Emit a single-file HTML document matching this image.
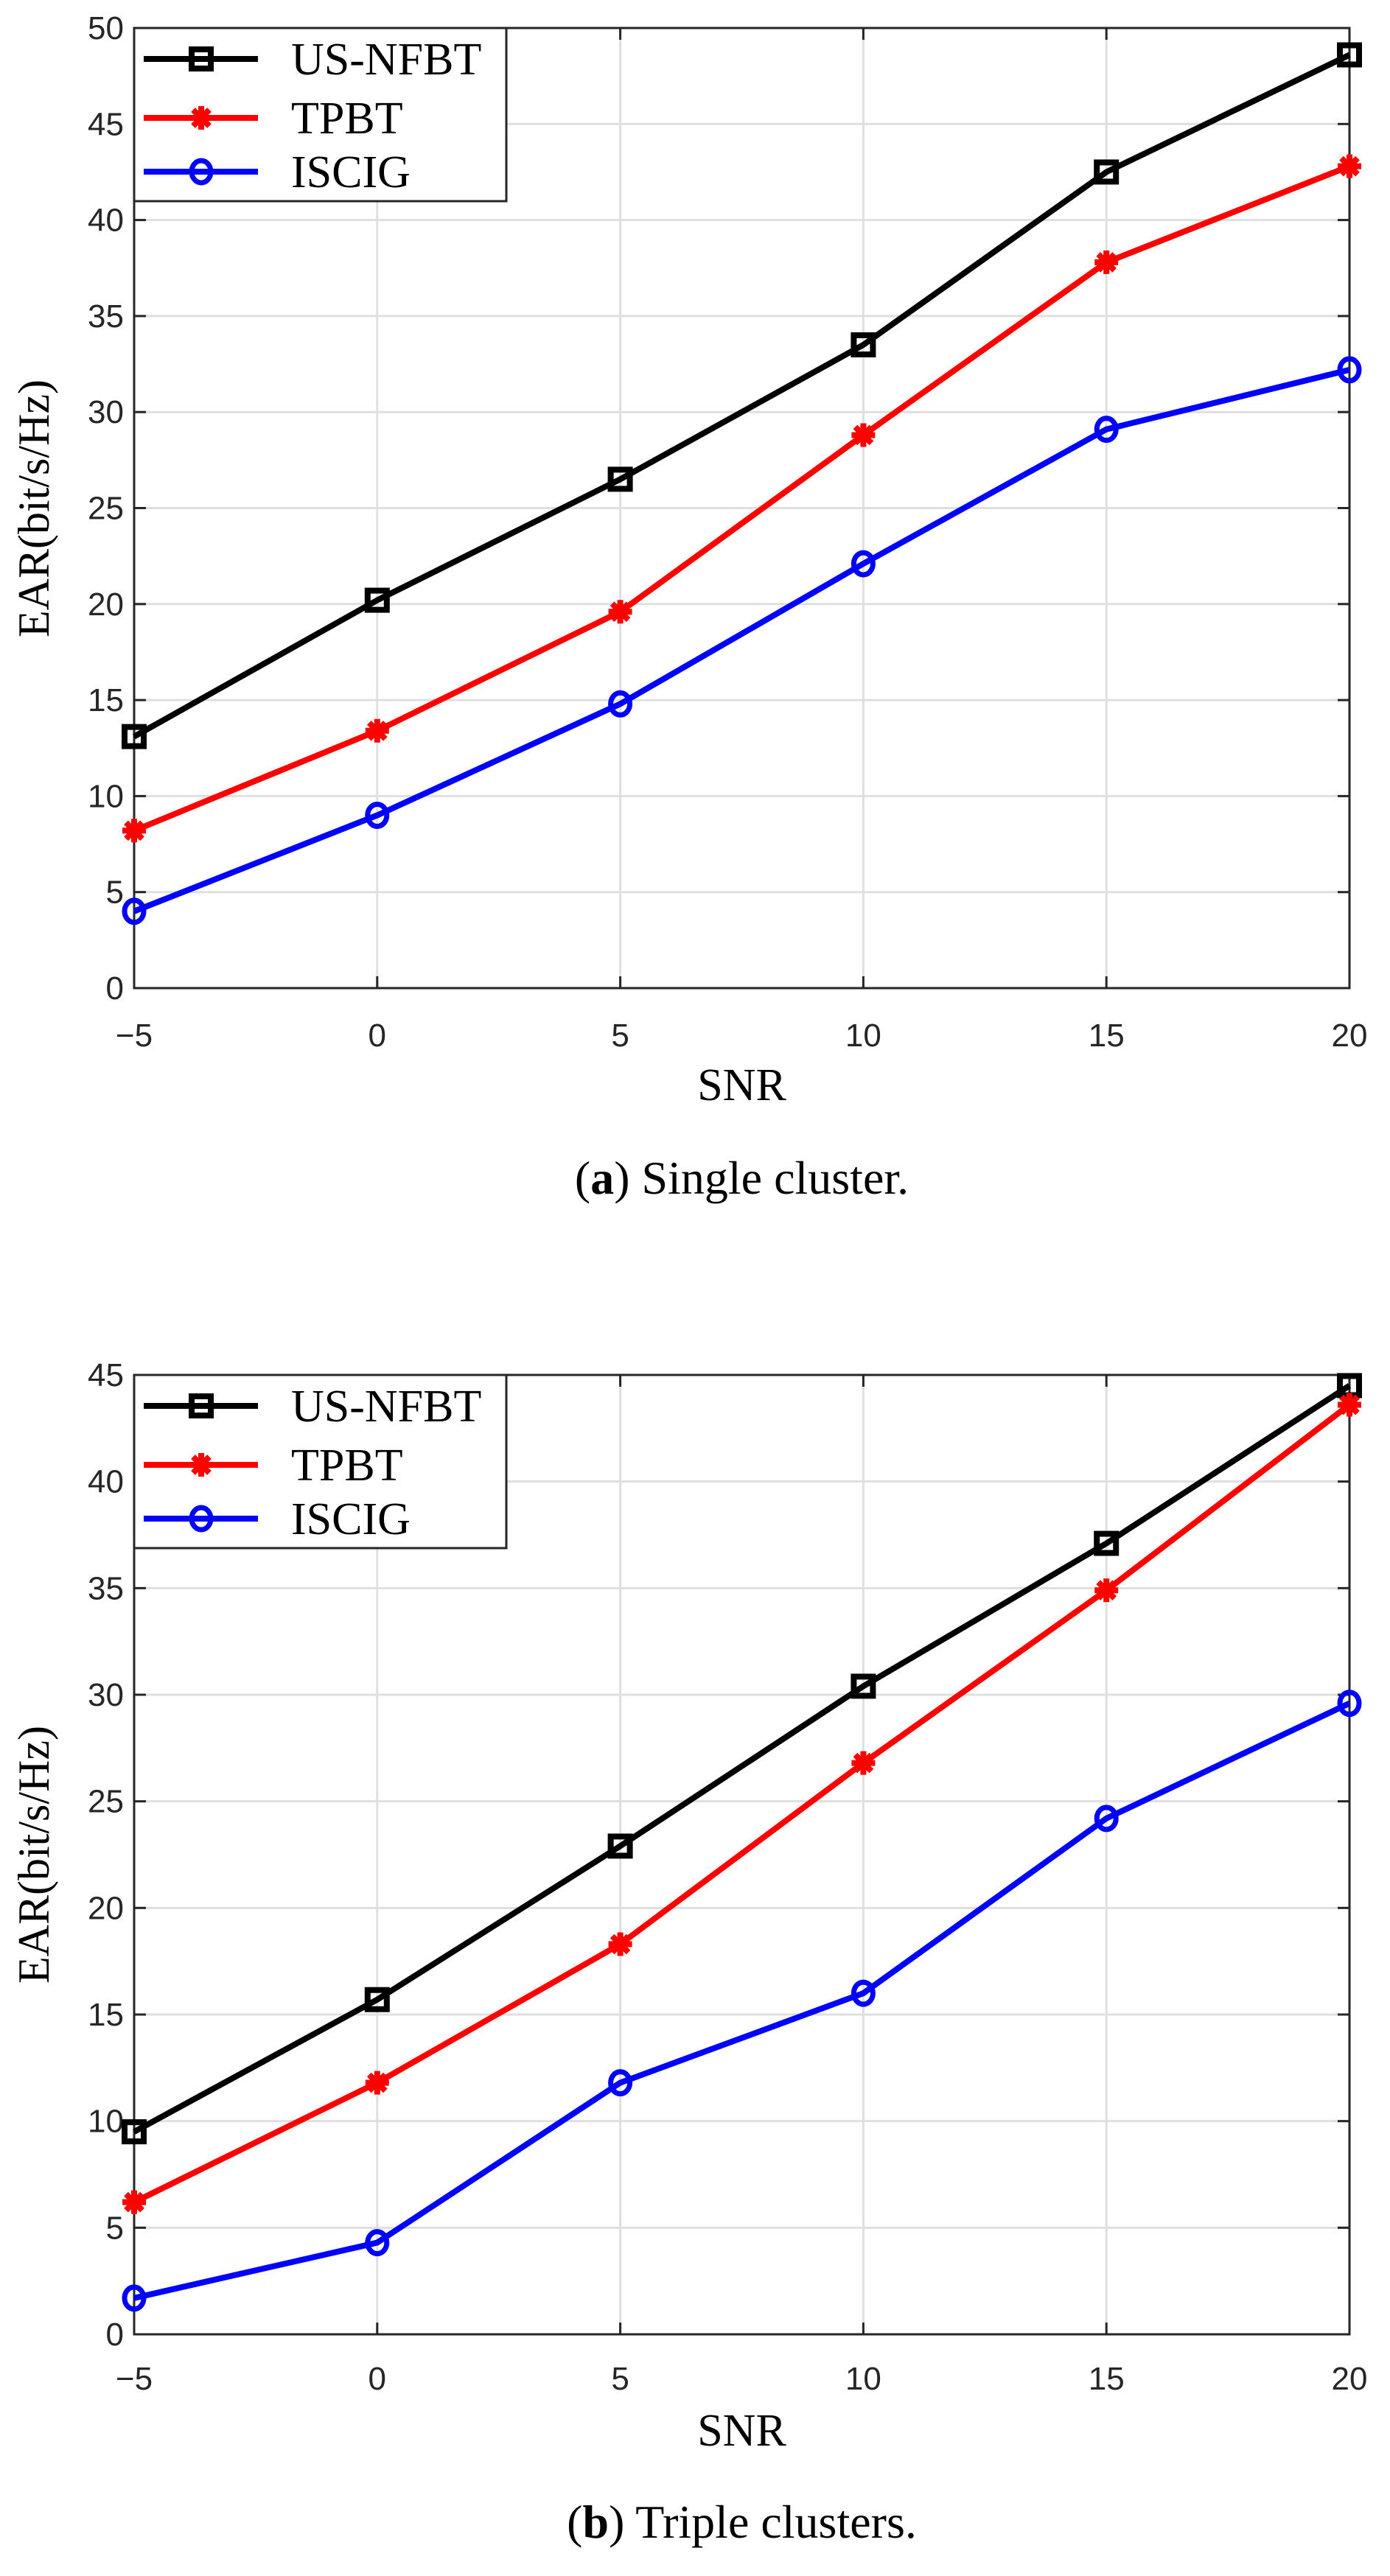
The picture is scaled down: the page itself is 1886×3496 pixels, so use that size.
<!DOCTYPE html>
<html><head><meta charset="utf-8"><style>
html,body{margin:0;padding:0;background:#fff;}
svg{display:block;}
.tick{font-family:"Liberation Sans",sans-serif;font-size:44px;fill:#262626;}
.serif{font-family:"Liberation Serif",serif;fill:#000;}
</style></head><body>
<svg id="svg" width="1886" height="3496" viewBox="0 0 1886 3496" xmlns="http://www.w3.org/2000/svg"></svg>
<script>
const xCategories = [-5, 0, 5, 10, 15, 20];
const xTickLabels = ['\u22125', '0', '5', '10', '15', '20'];
const seriesNames = ['US-NFBT', 'TPBT', 'ISCIG'];
const a_usnfbt = [13.1, 20.2, 26.5, 33.5, 42.5, 48.6];
const a_tpbt = [8.2, 13.4, 19.6, 28.8, 37.8, 42.8];
const a_iscig = [4.0, 9.0, 14.8, 22.1, 29.1, 32.2];
const b_usnfbt = [9.5, 15.7, 22.9, 30.4, 37.1, 44.5];
const b_tpbt = [6.2, 11.8, 18.3, 26.8, 34.9, 43.6];
const b_iscig = [1.7, 4.3, 11.8, 16.0, 24.2, 29.6];
const a_yTicks = [0,5,10,15,20,25,30,35,40,45,50];
const b_yTicks = [0,5,10,15,20,25,30,35,40,45];

const NS='http://www.w3.org/2000/svg';
const svg=document.getElementById('svg');
function mk(tag,attrs,parent){const e=document.createElementNS(NS,tag);for(const k in attrs)e.setAttribute(k,attrs[k]);(parent||svg).appendChild(e);return e;}
const colors=['#000000','#ff0000','#0000ff'];

function marker(g,i,x,y){
  if(i===0){const r=mk('rect',{x:x-13,y:y-13,width:26,height:26,fill:'none',stroke:colors[0],'stroke-width':8},g);}
  else if(i===1){const p=mk('path',{d:`M${x-16} ${y}H${x+16}M${x} ${y-16}V${y+16}M${x-11} ${y-11}L${x+11} ${y+11}M${x-11} ${y+11}L${x+11} ${y-11}`,stroke:colors[1],'stroke-width':8,fill:'none'},g);}
  else {const c=mk('ellipse',{cx:x,cy:y,rx:13,ry:15,fill:'none',stroke:colors[2],'stroke-width':7},g);}
}

function chart(id,top,bottom,ymax,yTicks,series,ylabY,tickY,snrY,capY,capLetter,capText){
  const L=182,R=1831;
  const g=mk('g',{});
  
  
  const xs=v=>L+(v-xCategories[0])/(xCategories[xCategories.length-1]-xCategories[0])*(R-L);
  const ys=v=>bottom-v/ymax*(bottom-top);
  yTicks.forEach(t=>{const l=mk('line',{x1:L,x2:R,y1:ys(t),y2:ys(t),stroke:'#dfdfdf','stroke-width':3},g);});
  xCategories.forEach(t=>{const l=mk('line',{x1:xs(t),x2:xs(t),y1:top,y2:bottom,stroke:'#dfdfdf','stroke-width':3},g);});
  yTicks.forEach(t=>{mk('line',{x1:L,x2:L+16,y1:ys(t),y2:ys(t),stroke:'#262626','stroke-width':3},g);mk('line',{x1:R-16,x2:R,y1:ys(t),y2:ys(t),stroke:'#262626','stroke-width':3},g);
    const tx=mk('text',{x:L-14,y:ys(t)+15,'text-anchor':'end',class:'tick'},g);tx.textContent=t;});
  xCategories.forEach((t,i)=>{mk('line',{x1:xs(t),x2:xs(t),y1:bottom-16,y2:bottom,stroke:'#262626','stroke-width':3},g);mk('line',{x1:xs(t),x2:xs(t),y1:top,y2:top+16,stroke:'#262626','stroke-width':3},g);
    const tx=mk('text',{x:xs(t),y:tickY+15,'text-anchor':'middle',class:'tick'},g);tx.textContent=xTickLabels[i];});
  const box=mk('rect',{x:L,y:top,width:R-L,height:bottom-top,fill:'none',stroke:'#262626','stroke-width':3},g);
  
  series.forEach((vals,i)=>{
    const sg=mk('g',{},g);
    
    
    const pl=mk('polyline',{points:vals.map((v,j)=>xs(xCategories[j])+','+ys(v)).join(' '),fill:'none',stroke:colors[i],'stroke-width':8,'stroke-linejoin':'round'},sg);
    
    vals.forEach((v,j)=>marker(sg,i,xs(xCategories[j]),ys(v)));
  });
  const lg=mk('g',{},g);
  
  mk('rect',{x:L,y:top,width:505,height:235,fill:'#fff',stroke:'#262626','stroke-width':3},lg);
  [42,122,195].forEach((dy,i)=>{
    const eg=mk('g',{},lg);
    
    mk('line',{x1:195,x2:350,y1:top+dy,y2:top+dy,stroke:colors[i],'stroke-width':8},eg);
    marker(eg,i,273,top+dy);
    const t=mk('text',{x:395,y:top+dy+21,class:'serif','font-size':62},eg);t.textContent=seriesNames[i];
  });
  const yl=mk('text',{x:0,y:0,class:'serif','font-size':60,'text-anchor':'middle',transform:`translate(66,${ylabY}) rotate(-90)`},g);
  yl.textContent='EAR(bit/s/Hz)';
  const xl=mk('text',{x:(L+R)/2,y:snrY+21,class:'serif','font-size':62,'text-anchor':'middle'},g);
  xl.textContent='SNR';
  const cp=mk('text',{x:(L+R)/2,y:capY+22,class:'serif','font-size':64,'text-anchor':'middle'},g);
  
  cp.innerHTML=`(<tspan font-weight="bold">${capLetter}</tspan>) ${capText}`;
}
chart('chart-single-cluster',38,1341,50,a_yTicks,[a_usnfbt,a_tpbt,a_iscig],690,1405,1472,1598,'a','Single cluster.');
chart('chart-triple-clusters',1866,3168,45,b_yTicks,[b_usnfbt,b_tpbt,b_iscig],2517,3228,3298,3422,'b','Triple clusters.');
</script>
</body></html>
